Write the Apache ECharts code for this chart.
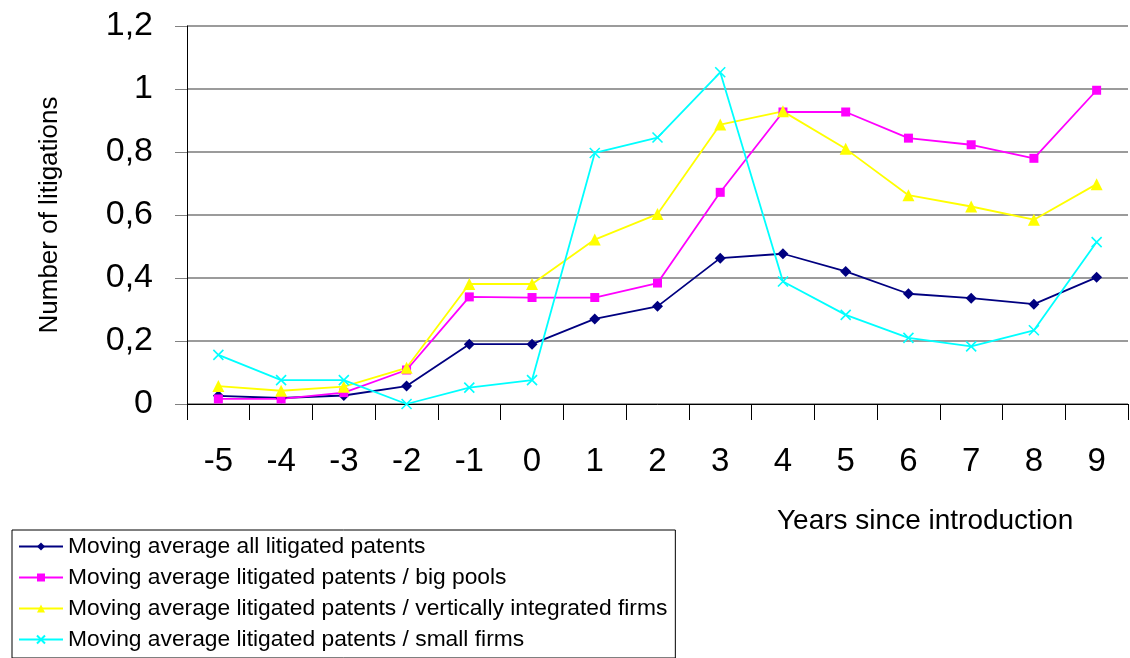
<!DOCTYPE html>
<html>
<head>
<meta charset="utf-8">
<script src="https://cdn.jsdelivr.net/npm/echarts@6/dist/echarts.min.js"></script>
<style>
html,body{margin:0;padding:0;background:#fff;}
#chart{width:1130px;height:658px;}
</style>
</head>
<body>
<div id="chart"></div>
<script>
const years = ['-5','-4','-3','-2','-1','0','1','2','3','4','5','6','7','8','9'];
const allPatents = [0.026, 0.019, 0.027, 0.057, 0.19, 0.19, 0.27, 0.31, 0.463, 0.477, 0.421, 0.35, 0.336, 0.317, 0.402];
const bigPools = [0.016, 0.016, 0.036, 0.108, 0.34, 0.338, 0.338, 0.384, 0.672, 0.927, 0.927, 0.844, 0.823, 0.78, 0.996];
const verticalFirms = [0.057, 0.042, 0.055, 0.115, 0.381, 0.381, 0.522, 0.603, 0.887, 0.929, 0.81, 0.663, 0.627, 0.585, 0.698];
const smallFirms = [0.156, 0.076, 0.076, 0.0, 0.052, 0.076, 0.797, 0.846, 1.053, 0.389, 0.283, 0.21, 0.183, 0.234, 0.514];
const seriesNames = [
  'Moving average all litigated patents',
  'Moving average litigated patents / big pools',
  'Moving average litigated patents / vertically integrated firms',
  'Moving average litigated patents / small firms'
];
const yTicks = {min: 0, max: 1.2, interval: 0.2};

const FONT = 'Liberation Sans, Arial, sans-serif';
const chart = echarts.init(document.getElementById('chart'), null, {renderer: 'canvas'});

function mk(name, data, color, symbol, size, extra) {
  return Object.assign({
    name: name,
    type: 'line',
    data: data,
    symbol: symbol,
    symbolSize: size,
    showAllSymbol: true,
    animation: false,
    lineStyle: {color: color, width: 1.8},
    itemStyle: {color: color, borderColor: color, borderWidth: 0}
  }, extra || {});
}

chart.setOption({
  animation: false,
  backgroundColor: '#fff',
  textStyle: {fontFamily: FONT},
  grid: {left: 187, right: 2, top: 26, bottom: 254},
  xAxis: {
    type: 'category',
    data: years,
    boundaryGap: true,
    axisLine: {lineStyle: {color: '#000', width: 1}},
    axisTick: {show: true, length: 16, interval: 0, lineStyle: {color: '#000', width: 1}},
    axisLabel: {fontSize: 33, color: '#000', margin: 41, interval: 0, fontFamily: FONT},
    splitLine: {show: false}
  },
  yAxis: {
    type: 'value',
    min: yTicks.min, max: yTicks.max, interval: yTicks.interval,
    name: 'Number of litigations',
    nameLocation: 'middle',
    nameRotate: 90,
    nameGap: 124,
    nameTextStyle: {fontSize: 26, color: '#000', fontFamily: FONT},
    axisLine: {show: true, lineStyle: {color: '#000', width: 1}},
    axisTick: {show: true, length: 12, lineStyle: {color: '#808080', width: 1}},
    axisLabel: {
      fontSize: 34, color: '#000', margin: 34, fontFamily: FONT,
      formatter: v => String(Number(v.toFixed(1))).replace('.', ',')
    },
    splitLine: {show: true, lineStyle: {color: '#7a7a7a', width: 1.5}}
  },
  legend: {
    orient: 'vertical',
    left: 12, top: 530,
    padding: [4, 8, 6, 6],
    itemGap: 6,
    itemWidth: 44,
    itemHeight: 10,
    borderColor: '#000',
    borderWidth: 1,
    backgroundColor: '#fff',
    textStyle: {fontSize: 22.8, lineHeight: 25, color: '#000', fontFamily: FONT},
    data: seriesNames
  },
  graphic: [{
    type: 'text',
    left: 777, top: 507,
    style: {text: 'Years since introduction', font: '28px ' + FONT, fill: '#000'}
  }],
  series: [
    mk(seriesNames[0], allPatents, '#000080', 'diamond', 11),
    mk(seriesNames[1], bigPools, '#FF00FF', 'rect', 9),
    mk(seriesNames[2], verticalFirms, '#FFFF00', 'triangle', 12),
    mk(seriesNames[3], smallFirms, '#00FFFF', 'path://M0,0L10,10M10,0L0,10', 10, {
      itemStyle: {color: '#00FFFF', borderColor: '#00FFFF', borderWidth: 1.6}
    })
  ]
});
</script>
</body>
</html>
